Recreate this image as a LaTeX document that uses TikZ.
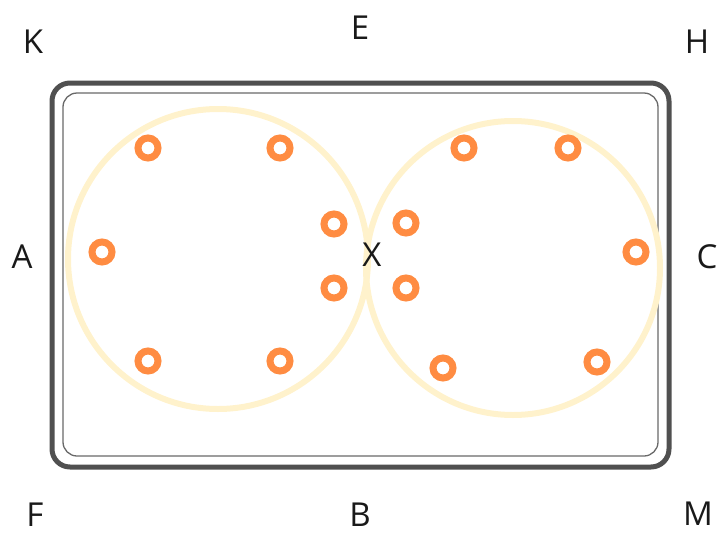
\documentclass[tikz,border=0pt]{standalone}
\usepackage{fontspec}
\setmainfont{Open Sans}
\usepackage{tikz}
\usetikzlibrary{positioning}
\definecolor{ringOrange}{RGB}{255, 140, 66}
\definecolor{paleYellow}{RGB}{255, 242, 204}
\definecolor{frameGray}{RGB}{80, 80, 80}
\definecolor{innerGray}{RGB}{105, 105, 105}
\definecolor{labelInk}{RGB}{25, 25, 25}
\tikzset{
  pinRing/.style={
    circle,
    draw=ringOrange,
    line width=7pt,
    minimum size=20pt,
    inner sep=0pt
  },
  bigLoop/.style={
    draw=paleYellow,
    line width=6pt
  },
  cornerLabel/.style={
    font=\fontsize{33}{36}\selectfont,
    text=labelInk,
    inner sep=0pt
  }
}
\begin{document}
\begin{tikzpicture}[x=1pt, y=-1pt]
  \useasboundingbox (0,0) rectangle (724,536);
  % Frame
  \draw[frameGray, line width=5pt, rounded corners=18pt] (52,83) rectangle (669,467);
  \draw[innerGray, line width=1.3pt, rounded corners=14pt] (63,93) rectangle (658,456);
  % Two big loops
  \draw[bigLoop] (218,259) circle[radius=150pt];
  \draw[bigLoop] (513,268) circle[radius=147pt];
  % Rings on the left loop
  \node[pinRing] (l1) at (148,148) {};
  \node[pinRing] (l2) at (280,148) {};
  \node[pinRing] (l3) at (102,252) {};
  \node[pinRing] (l4) at (334,224) {};
  \node[pinRing] (l5) at (334,288) {};
  \node[pinRing] (l6) at (148,361) {};
  \node[pinRing] (l7) at (280,361) {};
  % Rings on the right loop
  \node[pinRing] (r1) at (464,148) {};
  \node[pinRing] (r2) at (568,148) {};
  \node[pinRing] (r3) at (406,223) {};
  \node[pinRing] (r4) at (406,288) {};
  \node[pinRing] (r5) at (636,252) {};
  \node[pinRing] (r6) at (443,368) {};
  \node[pinRing] (r7) at (597,362) {};
  % Labels
  \node[cornerLabel] (K) at (33,42) {K};
  \node[cornerLabel] (E) at (360,28) {E};
  \node[cornerLabel] (H) at (697,42) {H};
  \node[cornerLabel] (A) at (22,257) {A};
  \node[cornerLabel] (X) at (372,255) {X};
  \node[cornerLabel] (C) at (707,257) {C};
  \node[cornerLabel] (F) at (35,515) {F};
  \node[cornerLabel] (B) at (360,515) {B};
  \node[cornerLabel] (M) at (698,514) {M};
\end{tikzpicture}
\end{document}
